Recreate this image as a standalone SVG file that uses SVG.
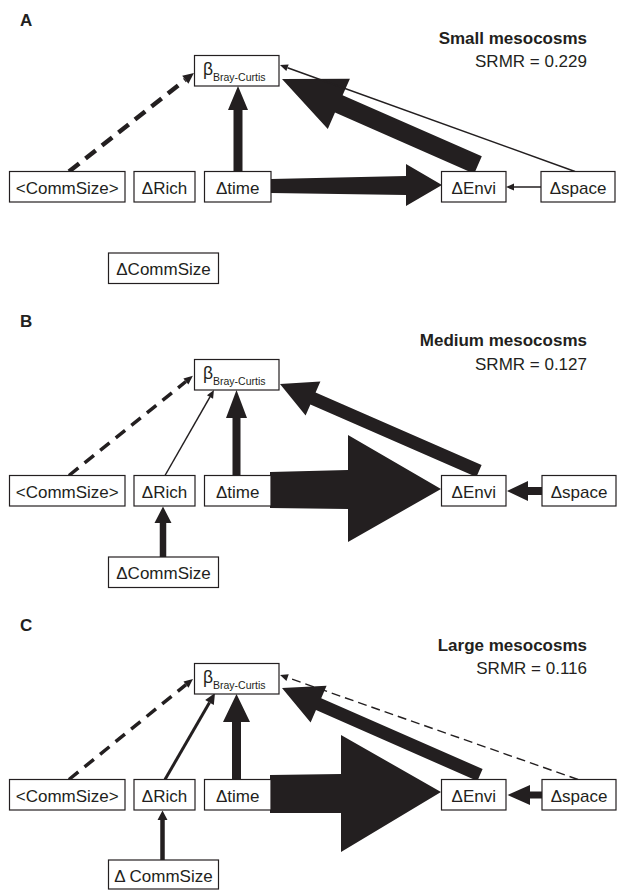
<svg xmlns="http://www.w3.org/2000/svg" width="618" height="891" viewBox="0 0 618 891">
<defs>
<style>
.bg{fill:#fff}
.box{fill:#fff;stroke:#231f20;stroke-width:1.2}
.t{font-family:"Liberation Sans",Arial,Helvetica,sans-serif;fill:#231f20}
.lbl{font-size:17px;text-anchor:middle}
.sub{font-size:10.5px}
.beta{font-size:17.5px}
.ttl{font-size:17px;font-weight:bold;text-anchor:end}
.srmr{font-size:17px;text-anchor:end}
.pl{font-size:17px;font-weight:bold}
.fa{fill:#231f20;stroke:none}
.ln{fill:none;stroke:#231f20}
.d4{stroke-width:4.5;stroke-dasharray:13 8}
.d3{stroke-width:3.5;stroke-dasharray:12 8}
.d1{stroke-width:1.4;stroke-dasharray:9 5}
.s1{stroke-width:1.5}
.s3{stroke-width:3}
</style>
<marker id="hd" markerUnits="userSpaceOnUse" markerWidth="12" markerHeight="12" refX="0" refY="5" orient="auto" overflow="visible"><path d="M0,0 L11,5 L0,10 z" fill="#231f20"/></marker>
<marker id="hm" markerUnits="userSpaceOnUse" markerWidth="10" markerHeight="10" refX="0" refY="4" orient="auto" overflow="visible"><path d="M0,0 L9,4 L0,8 z" fill="#231f20"/></marker>
<marker id="hs" markerUnits="userSpaceOnUse" markerWidth="9" markerHeight="8" refX="0" refY="3.5" orient="auto" overflow="visible"><path d="M0,0 L8,3.5 L0,7 z" fill="#231f20"/></marker>
</defs>
<rect class="bg" x="0" y="0" width="618" height="891"/>

<!-- Panel A -->
<g id="panelA">
<text class="t pl" x="20" y="26">A</text>
<text class="t ttl" x="587" y="43.5">Small mesocosms</text>
<text class="t srmr" x="587" y="67">SRMR = 0.229</text>
<g id="connectorsA">
<line class="ln d4" x1="69" y1="171.5" x2="185.3" y2="79.8" marker-end="url(#hd)"/>
<polygon class="fa" points="233.5,171.5 233.5,110 228,110 238,86 248,110 242.5,110 242.5,171.5"/>
<polygon class="fa" points="271,179 406,176 406,164 442,185 406,206 406,195 271,193"/>
<polygon class="fa" points="481.8,156.3 342.6,95.2 349.9,78.7 282,79 327.8,129.1 335,112.6 474.2,173.7"/>
<line class="ln s1" x1="575" y1="171.5" x2="287.5" y2="67.7" marker-end="url(#hs)"/>
<line class="ln s1" x1="541" y1="187" x2="514" y2="187" marker-end="url(#hs)"/>
</g>
<g id="A-beta"><rect class="box" x="194.5" y="55.5" width="84.5" height="30.5"/><text class="t beta" x="203" y="75">β</text><text class="t sub" x="213" y="80.5">Bray-Curtis</text></g>
<g id="A-commsize"><rect class="box" x="9.5" y="171.5" width="115.5" height="30.5"/><text class="t lbl" x="67.25" y="193.5">&lt;CommSize&gt;</text></g>
<g id="A-rich"><rect class="box" x="134" y="171.5" width="61" height="30.5"/><text class="t lbl" x="164.5" y="193.5">ΔRich</text></g>
<g id="A-time"><rect class="box" x="204.5" y="171.5" width="66.5" height="30.5"/><text class="t lbl" x="237.75" y="193.5">Δtime</text></g>
<g id="A-envi"><rect class="box" x="441.5" y="171.5" width="64.5" height="30.5"/><text class="t lbl" x="473.75" y="193.5">ΔEnvi</text></g>
<g id="A-space"><rect class="box" x="541" y="171.5" width="74" height="30.5"/><text class="t lbl" x="578" y="193.5">Δspace</text></g>
<g id="A-dcommsize"><rect class="box" x="108.5" y="253" width="110" height="30.5"/><text class="t lbl" x="163.5" y="275">ΔCommSize</text></g>
</g>

<!-- Panel B -->
<g id="panelB">
<text class="t pl" x="20" y="327">B</text>
<text class="t ttl" x="587" y="346">Medium mesocosms</text>
<text class="t srmr" x="587" y="370">SRMR = 0.127</text>
<g id="connectorsB">
<line class="ln d3" x1="69" y1="475.5" x2="185.9" y2="381.5" marker-end="url(#hm)"/>
<line class="ln s1" x1="165" y1="475.5" x2="210" y2="396.9" marker-end="url(#hs)"/>
<polygon class="fa" points="232.5,475.5 232.5,418 226,418 236.5,390 247,418 240.5,418 240.5,475.5"/>
<polygon class="fa" points="159.75,557 159.75,523 154.5,523 163,506.5 171.5,523 166.25,523 166.25,557"/>
<polygon class="fa" points="270,472 348,470 348,435 441,489 348,542 348,509 270,508"/>
<polygon class="fa" points="481.6,465 315.6,392.5 320.4,381.5 280,384 305.6,415.4 310.4,404.4 476.4,477"/>
<polygon class="fa" points="542,487 528,487 528,481 507,491 528,501 528,495 542,495"/>
</g>
<g id="B-beta"><rect class="box" x="194.5" y="359.5" width="84.5" height="30.5"/><text class="t beta" x="203" y="379">β</text><text class="t sub" x="213" y="384.5">Bray-Curtis</text></g>
<g id="B-commsize"><rect class="box" x="9.5" y="475.5" width="115.5" height="30.5"/><text class="t lbl" x="67.25" y="497.5">&lt;CommSize&gt;</text></g>
<g id="B-rich"><rect class="box" x="134" y="475.5" width="61" height="30.5"/><text class="t lbl" x="164.5" y="497.5">ΔRich</text></g>
<g id="B-time"><rect class="box" x="204.5" y="475.5" width="66.5" height="30.5"/><text class="t lbl" x="237.75" y="497.5">Δtime</text></g>
<g id="B-envi"><rect class="box" x="441.5" y="475.5" width="64.5" height="30.5"/><text class="t lbl" x="473.75" y="497.5">ΔEnvi</text></g>
<g id="B-space"><rect class="box" x="542" y="475.5" width="74" height="30.5"/><text class="t lbl" x="579" y="497.5">Δspace</text></g>
<g id="B-dcommsize"><rect class="box" x="108.5" y="557" width="110" height="30.5"/><text class="t lbl" x="163.5" y="579">ΔCommSize</text></g>
</g>

<!-- Panel C -->
<g id="panelC">
<text class="t pl" x="20" y="631">C</text>
<text class="t ttl" x="587" y="650.5">Large mesocosms</text>
<text class="t srmr" x="587" y="674">SRMR = 0.116</text>
<g id="connectorsC">
<line class="ln d3" x1="69" y1="779.5" x2="186" y2="684.6" marker-end="url(#hm)"/>
<line class="ln s3" x1="165" y1="779.5" x2="209.5" y2="702.5" marker-end="url(#hd)"/>
<polygon class="fa" points="232,779.5 232,722 223,722 236.5,694 250,722 241,722 241,779.5"/>
<polygon class="fa" points="160.25,860 160.25,820 157.5,820 162.5,810.5 167.5,820 164.75,820 164.75,860"/>
<polygon class="fa" points="270,775 341,774 341,735 441,792 341,852 341,813 270,813"/>
<polygon class="fa" points="482.6,769 321.2,698.2 326.6,685.8 282,688 310.6,722.4 316,710.1 477.4,781"/>
<line class="ln d1" x1="578" y1="779.5" x2="287.6" y2="677.6" marker-end="url(#hs)"/>
<polygon class="fa" points="542,791.5 530,791.5 530,785 507.5,795 530,805 530,798.5 542,798.5"/>
</g>
<g id="C-beta"><rect class="box" x="194.5" y="663.5" width="84.5" height="30.5"/><text class="t beta" x="203" y="683">β</text><text class="t sub" x="213" y="688.5">Bray-Curtis</text></g>
<g id="C-commsize"><rect class="box" x="9.5" y="779.5" width="115.5" height="30.5"/><text class="t lbl" x="67.25" y="801.5">&lt;CommSize&gt;</text></g>
<g id="C-rich"><rect class="box" x="134" y="779.5" width="61" height="30.5"/><text class="t lbl" x="164.5" y="801.5">ΔRich</text></g>
<g id="C-time"><rect class="box" x="204.5" y="779.5" width="66.5" height="30.5"/><text class="t lbl" x="237.75" y="801.5">Δtime</text></g>
<g id="C-envi"><rect class="box" x="441.5" y="779.5" width="64.5" height="30.5"/><text class="t lbl" x="473.75" y="801.5">ΔEnvi</text></g>
<g id="C-space"><rect class="box" x="542" y="779.5" width="74" height="30.5"/><text class="t lbl" x="579" y="801.5">Δspace</text></g>
<g id="C-dcommsize"><rect class="box" x="108.5" y="860" width="110" height="29"/><text class="t lbl" x="163.5" y="882">Δ CommSize</text></g>
</g>
</svg>
